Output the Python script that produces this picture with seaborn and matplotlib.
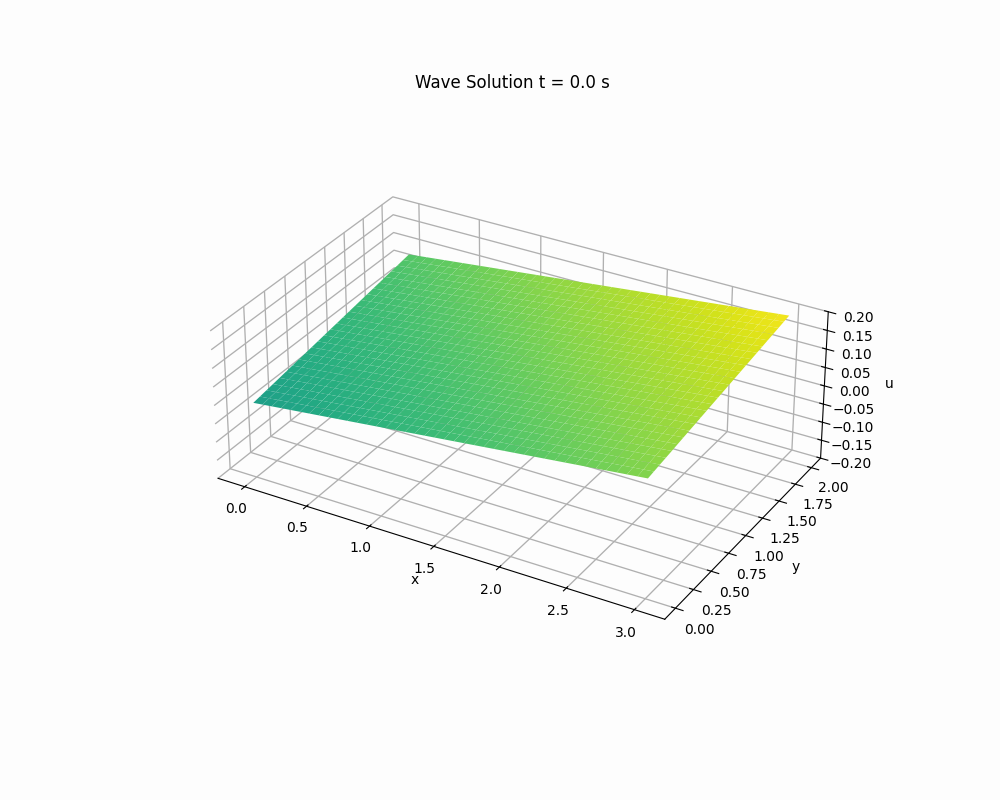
import numpy as np
import matplotlib
matplotlib.use("Agg")
import matplotlib.pyplot as plt
import seaborn as sns

x_values = [0.000, 0.075, 0.150, 0.225, 0.300, 0.375, 0.450, 0.525, 0.600, 0.675, 0.750,
            0.825, 0.900, 0.975, 1.050, 1.125, 1.200, 1.275, 1.350, 1.425, 1.500,
            1.575, 1.650, 1.725, 1.800, 1.875, 1.950, 2.025, 2.100, 2.175, 2.250,
            2.325, 2.400, 2.475, 2.550, 2.625, 2.700, 2.775, 2.850, 2.925, 3.000]
y_values = [0.00, 0.08, 0.16, 0.24, 0.32, 0.40, 0.48, 0.56, 0.64, 0.72, 0.80, 0.88, 0.96,
            1.04, 1.12, 1.20, 1.28, 1.36, 1.44, 1.52, 1.60, 1.68, 1.76, 1.84, 1.92, 2.00]

# height of the front edge (y = 0) read along x
u_along_x = [0.0040, 0.0068, 0.0096, 0.0124, 0.0152, 0.0180, 0.0208, 0.0236, 0.0264, 0.0292, 0.0320,
             0.0348, 0.0376, 0.0404, 0.0432, 0.0460, 0.0488, 0.0516, 0.0544, 0.0572, 0.0600,
             0.0628, 0.0656, 0.0684, 0.0712, 0.0740, 0.0768, 0.0796, 0.0824, 0.0852, 0.0880,
             0.0908, 0.0936, 0.0964, 0.0992, 0.1020, 0.1048, 0.1076, 0.1104, 0.1132, 0.1160]
# rise over the front edge read along y
u_along_y = [0.0000, 0.0031, 0.0062, 0.0092, 0.0123, 0.0154, 0.0185, 0.0216, 0.0246, 0.0277, 0.0308, 0.0339, 0.0370,
             0.0400, 0.0431, 0.0462, 0.0493, 0.0524, 0.0554, 0.0585, 0.0616, 0.0647, 0.0678, 0.0708, 0.0739, 0.0770]

X, Y = np.meshgrid(x_values, y_values)
U = np.add.outer(u_along_y, u_along_x)

bg = "#fdfdfd"
plt.rcParams["grid.linewidth"] = 0.95
fig = plt.figure(figsize=(10, 8), dpi=100, facecolor=bg)
ax = fig.add_subplot(projection="3d", facecolor=bg)

ax.plot_surface(X, Y, U, cmap=sns.color_palette("viridis", as_cmap=True),
                vmin=-0.245, vmax=0.2, rcount=50, ccount=50, linewidth=0)

ax.set_zlim(-0.2, 0.2)
ax.set_box_aspect((3, 2, 1))
ax.set_xlabel("x")
ax.set_ylabel("y")
ax.set_zlabel("u")
ax.set_title("Wave Solution t = 0.0 s")

for axis in (ax.xaxis, ax.yaxis, ax.zaxis):
    axis.set_pane_color(bg)

fig.savefig("out.png", dpi=100, facecolor=bg)
